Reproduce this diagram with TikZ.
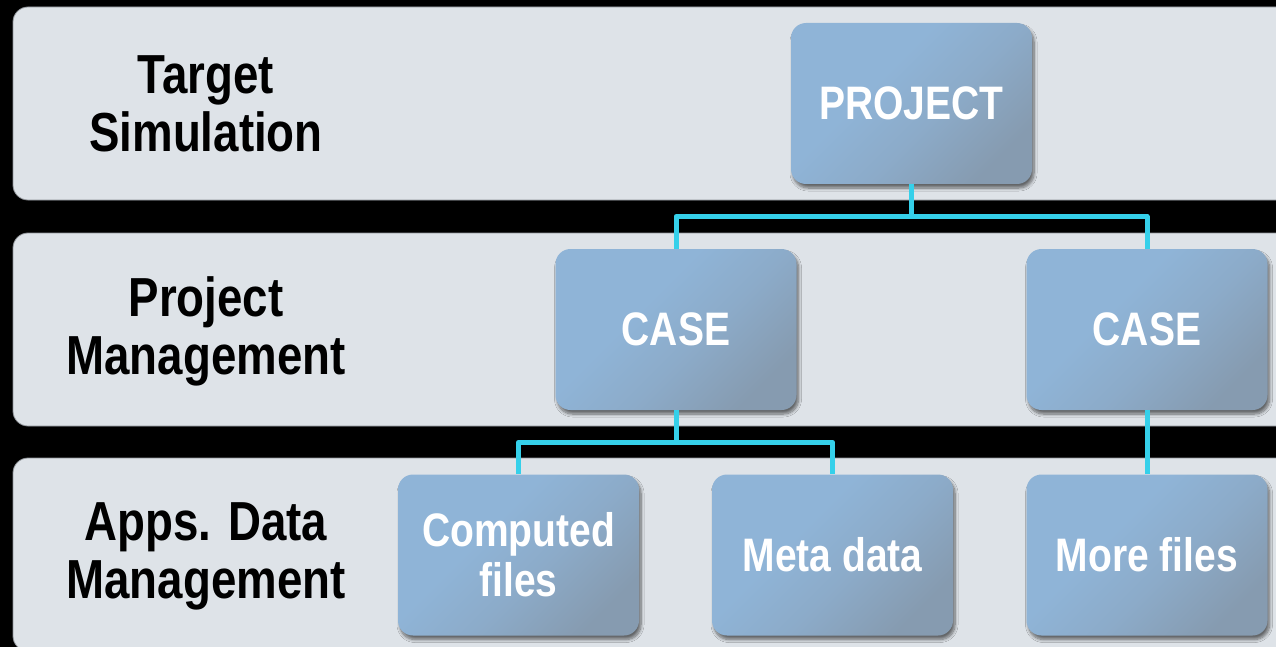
\documentclass[tikz,border=0pt]{standalone}
\usepackage{fontspec}
\setmainfont{Liberation Sans}[FakeStretch=0.83]
\usetikzlibrary{shadows.blur,calc}

\definecolor{bandfill}{HTML}{DEE3E8}
\definecolor{bandline}{HTML}{8E9297}
\definecolor{boxlight}{HTML}{8FB4D7}
\definecolor{boxmid}{HTML}{8CABC9}
\definecolor{boxdark}{HTML}{869BB0}
\definecolor{linkcyan}{HTML}{35D0EA}

% light blue face that darkens gradually towards the lower right corner
\pgfdeclareverticalshading{boxface}{100bp}{%
  color(0bp)=(boxdark); color(25bp)=(boxdark); color(44bp)=(boxmid);
  color(60bp)=(boxlight); color(75bp)=(boxlight); color(100bp)=(boxlight)}

\tikzset{
  band/.style={fill=bandfill, draw=bandline, line width=0.8pt, rounded corners=15pt},
  layerlabel/.style={align=center, text=black, font=\bfseries\fontsize{55}{58}\selectfont, inner sep=0pt},
  itembox/.style={rectangle, rounded corners=15pt, minimum width=241pt, minimum height=161pt,
    inner sep=0pt, align=center, text=white,
    font=\bfseries\fontsize{47}{50}\selectfont,
    shading=boxface, shading angle=45,
    blur shadow={shadow xshift=2pt, shadow yshift=-4pt, shadow blur radius=3pt,
      shadow blur steps=8, shadow opacity=55}},
  link/.style={draw=linkcyan, line width=5pt, line join=round}
}

\begin{document}
\begin{tikzpicture}[x=1pt, y=-1pt]
  % black page, clipped to the visible frame
  \fill[black] (0,0) rectangle (1276,647);
  \useasboundingbox (0,0) rectangle (1276,647);
  \clip (0,0) rectangle (1276,647);

  % three horizontal layers
  \path[band] (13,7)   rectangle (1320,200);
  \path[band] (13,233) rectangle (1320,426);
  \path[band] (13,458) rectangle (1320,651);

  % layer labels
  \node[layerlabel] (lblTarget)  at (206,104) {Target\\Simulation};
  \node[layerlabel] (lblProject) at (206,331) {Project\\Management};
  \node[layerlabel] (lblApps)    at (206,556) {Apps. Data\\Management};

  % hierarchy boxes
  \node[itembox] (proj)     at (911.5,103.5) {PROJECT};
  \node[itembox] (caseA)    at (676,329.5)   {CASE};
  \node[itembox] (caseB)    at (1147,329.5)  {CASE};
  \node[itembox] (computed) at (518.5,555)   {Computed\\files};
  \node[itembox] (meta)     at (832.5,555)   {Meta data};
  \node[itembox] (more)     at (1147,555)    {More files};

  % connectors
  \draw[link] (proj.south) |- ($(proj.south)!.5!(caseA.north)$) -| (caseA.north);
  \draw[link] (proj.south) |- ($(proj.south)!.5!(caseB.north)$) -| (caseB.north);
  \draw[link] (caseA.south) |- ($(caseA.south)!.5!(computed.north)$) -| (computed.north);
  \draw[link] (caseA.south) |- ($(caseA.south)!.5!(meta.north)$) -| (meta.north);
  \draw[link] (caseB.south) -- (more.north);
\end{tikzpicture}
\end{document}
